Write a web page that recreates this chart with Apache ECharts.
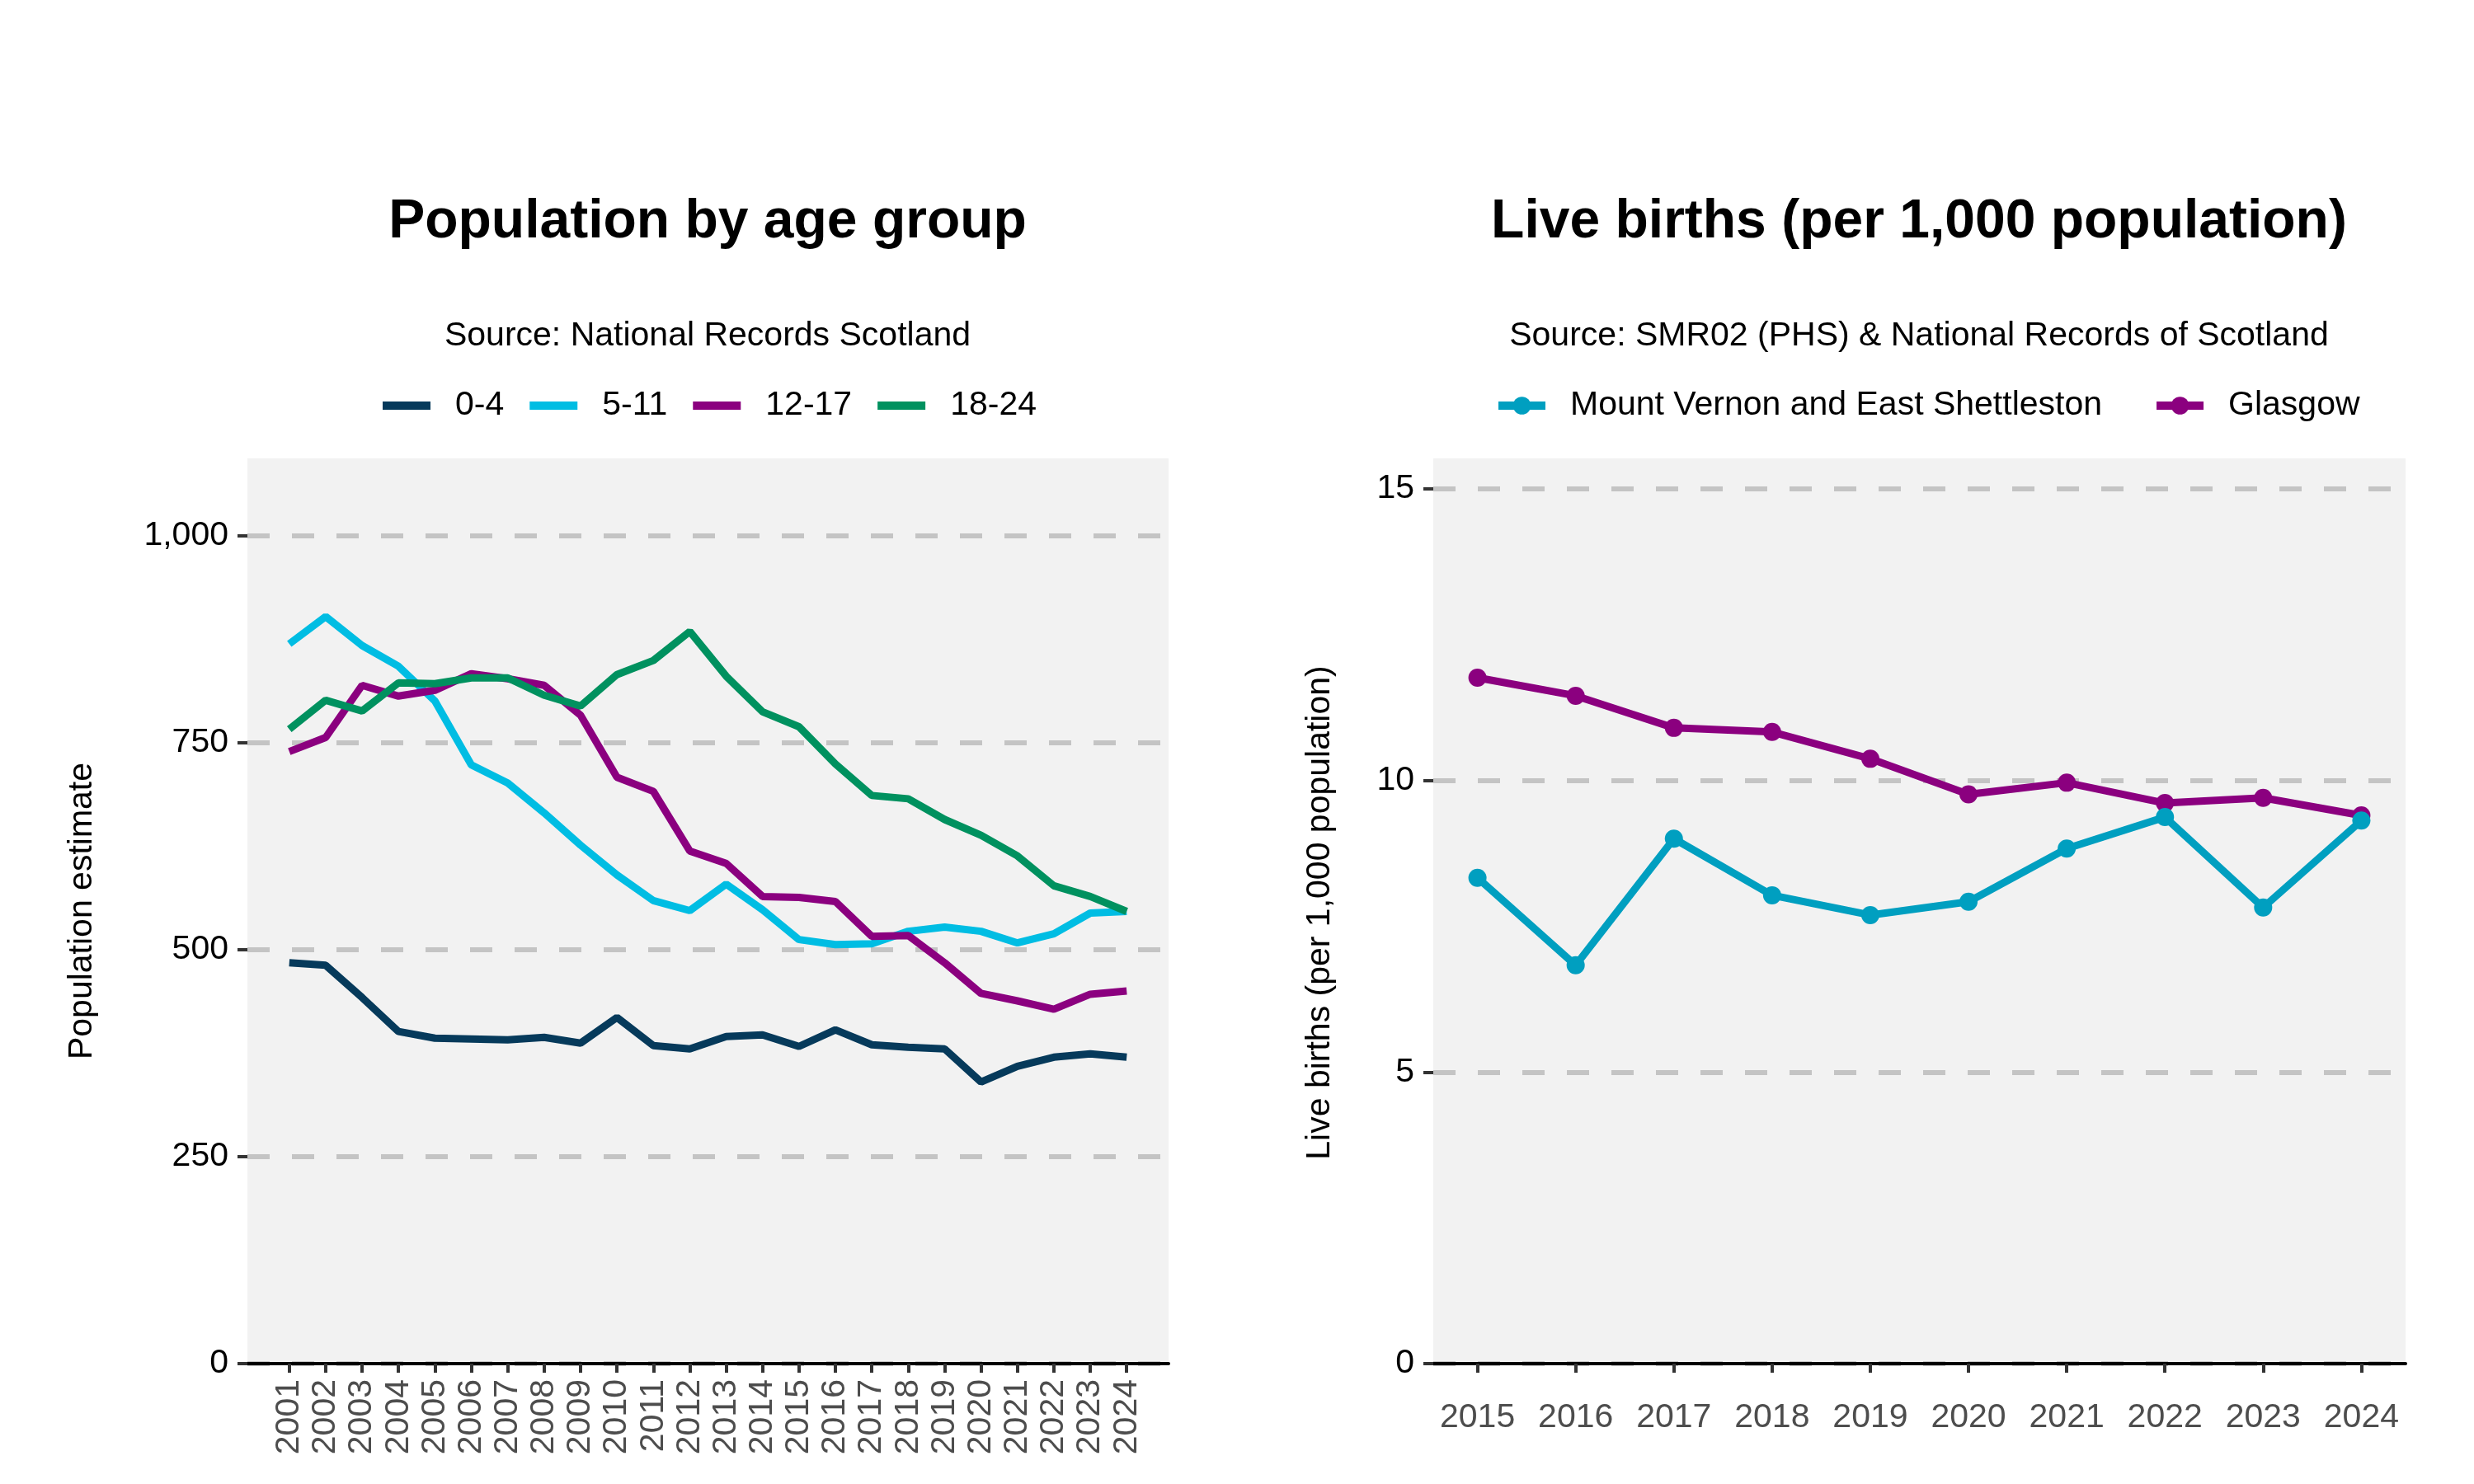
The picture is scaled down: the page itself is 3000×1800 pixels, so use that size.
<!DOCTYPE html>
<html>
<head>
<meta charset="utf-8">
<title>Population by age group / Live births</title>
<script src="https://cdn.jsdelivr.net/npm/echarts@6/dist/echarts.min.js"></script>
<style>
  html, body { margin: 0; padding: 0; background: #fff; }
  #chart { width: 3000px; height: 1800px; }
</style>
</head>
<body>
<div id="chart"></div>
<script>
// population by age group
const popYears = [2001, 2002, 2003, 2004, 2005, 2006, 2007, 2008, 2009, 2010, 2011, 2012,
  2013, 2014, 2015, 2016, 2017, 2018, 2019, 2020, 2021, 2022, 2023, 2024];
const age0to4 = [484, 481, 442, 401, 393, 392, 391, 394, 387, 418, 384, 380,
  395, 397, 383, 403, 385, 382, 380, 340, 359, 370, 374, 370];
const age5to11 = [869, 902, 867, 842, 800, 723, 701, 665, 626, 590, 559, 547,
  579, 548, 512, 506, 507, 522, 527, 522, 508, 519, 544, 546];
const age12to17 = [739, 756, 819, 806, 813, 833, 827, 819, 783, 708, 691, 619,
  604, 564, 563, 558, 516, 517, 484, 447, 438, 428, 446, 450];
const age18to24 = [766, 801, 788, 822, 821, 828, 828, 807, 794, 832, 849, 884,
  830, 787, 769, 724, 686, 682, 657, 638, 613, 577, 564, 546];
const popTicks = [0, 250, 500, 750, 1000];

// live births per 1,000
const birthYears = [2015, 2016, 2017, 2018, 2019, 2020, 2021, 2022, 2023, 2024];
const mountVernon = [8.33, 6.83, 9.00, 8.03, 7.69, 7.92, 8.83, 9.37, 7.82, 9.31];
const glasgow = [11.76, 11.45, 10.90, 10.83, 10.37, 9.76, 9.96, 9.61, 9.70, 9.40];
const birthTicks = [0, 5, 10, 15];

const FONT = '"Liberation Sans", Arial, sans-serif';

const pairs = (xs, ys) => xs.map((x, i) => [x, ys[i]]);

const chart = echarts.init(document.getElementById('chart'));

const gridLine = {
  show: true,
  lineStyle: { color: '#c4c4c4', width: 6, type: [27, 27] }
};

const yAxisBase = {
  type: 'value',
  min: 0,
  axisLine: { show: false },
  axisTick: { show: true, length: 12, lineStyle: { color: '#333', width: 4 } },
  axisLabel: { color: '#000', fontSize: 41, fontFamily: FONT, margin: 23 },
  splitLine: gridLine
};

const xAxisBase = {
  type: 'value',
  axisLine: { show: true, onZero: false, lineStyle: { color: '#000', width: 4 } },
  axisTick: { show: true, length: 11, lineStyle: { color: '#333', width: 4 } },
  splitLine: { show: false }
};

const lineSeries = (name, data, color, xi) => ({
  name: name,
  type: 'line',
  xAxisIndex: xi,
  yAxisIndex: xi,
  data: data,
  symbol: 'none',
  lineStyle: { color: color, width: 9 },
  itemStyle: { color: color },
  emphasis: { disabled: true }
});

const pointSeries = (name, data, color) => ({
  name: name,
  type: 'line',
  xAxisIndex: 1,
  yAxisIndex: 1,
  data: data,
  symbol: 'circle',
  symbolSize: 22,
  showAllSymbol: true,
  lineStyle: { color: color, width: 9 },
  itemStyle: { color: color },
  emphasis: { disabled: true }
});

const option = {
  backgroundColor: '#fff',
  animation: false,
  textStyle: { fontFamily: FONT },
  grid: [
    { left: 300, top: 556, width: 1117, height: 1098, show: true,
      backgroundColor: '#f2f2f2', borderWidth: 0 },
    { left: 1738, top: 556, width: 1179, height: 1098, show: true,
      backgroundColor: '#f2f2f2', borderWidth: 0 }
  ],
  xAxis: [
    Object.assign({}, xAxisBase, {
      gridIndex: 0,
      min: popYears[0] - 1.15,
      max: popYears[popYears.length - 1] + 1.15,
      axisTick: Object.assign({}, xAxisBase.axisTick, { customValues: popYears }),
      axisLabel: { customValues: popYears, rotate: 90, color: '#4d4d4d', fontSize: 41,
        fontFamily: FONT, margin: 19, formatter: v => String(v) }
    }),
    Object.assign({}, xAxisBase, {
      gridIndex: 1,
      min: birthYears[0] - 0.45,
      max: birthYears[birthYears.length - 1] + 0.45,
      axisTick: Object.assign({}, xAxisBase.axisTick, { customValues: birthYears }),
      axisLabel: { customValues: birthYears, color: '#4d4d4d', fontSize: 41,
        fontFamily: FONT, margin: 45, formatter: v => String(v) }
    })
  ],
  yAxis: [
    Object.assign({}, yAxisBase, {
      gridIndex: 0,
      max: 1093,
      interval: 250,
      axisTick: Object.assign({}, yAxisBase.axisTick, { customValues: popTicks }),
      axisLabel: Object.assign({}, yAxisBase.axisLabel, {
        customValues: popTicks, formatter: v => v.toLocaleString('en-US') })
    }),
    Object.assign({}, yAxisBase, {
      gridIndex: 1,
      max: 15.52,
      interval: 5,
      axisTick: Object.assign({}, yAxisBase.axisTick, { customValues: birthTicks }),
      axisLabel: Object.assign({}, yAxisBase.axisLabel, {
        customValues: birthTicks, formatter: v => String(v) })
    })
  ],
  legend: [
    {
      data: ['0-4', '5-11', '12-17', '18-24'],
      left: 464, top: 469, padding: 0,
      icon: 'rect', itemWidth: 58, itemHeight: 10, itemGap: 31,
      selectedMode: false,
      textStyle: { color: '#000', fontSize: 41, fontFamily: FONT, lineHeight: 46,
        padding: [0, 0, 0, 25] }
    },
    {
      data: ['Mount Vernon and East Shettleston', 'Glasgow'],
      left: 1812, top: 469, padding: 0,
      itemWidth: 57, itemHeight: 27, itemGap: 61,
      selectedMode: false,
      lineStyle: { width: 10 },
      textStyle: { color: '#000', fontSize: 41, fontFamily: FONT, lineHeight: 46,
        padding: [0, 0, 0, 25] }
    }
  ],
  graphic: [
    { type: 'text', x: 858, y: 270, style: { text: 'Population by age group',
      font: 'bold 66px ' + FONT, fill: '#000', align: 'center', verticalAlign: 'middle' } },
    { type: 'text', x: 858, y: 408, style: { text: 'Source: National Records Scotland',
      font: '41px ' + FONT, fill: '#000', align: 'center', verticalAlign: 'middle' } },
    { type: 'text', x: 2327, y: 270, style: { text: 'Live births (per 1,000 population)',
      font: 'bold 66px ' + FONT, fill: '#000', align: 'center', verticalAlign: 'middle' } },
    { type: 'text', x: 2327, y: 408, style: { text: 'Source: SMR02 (PHS) & National Records of Scotland',
      font: '41px ' + FONT, fill: '#000', align: 'center', verticalAlign: 'middle' } },
    { type: 'text', x: 100, y: 1105, rotation: Math.PI / 2, style: { text: 'Population estimate',
      font: '41px ' + FONT, fill: '#000', align: 'center', verticalAlign: 'middle' } },
    { type: 'text', x: 1601, y: 1107, rotation: Math.PI / 2, style: { text: 'Live births (per 1,000 population)',
      font: '41px ' + FONT, fill: '#000', align: 'center', verticalAlign: 'middle' } }
  ],
  series: [
    lineSeries('0-4', pairs(popYears, age0to4), '#063a5b', 0),
    lineSeries('5-11', pairs(popYears, age5to11), '#00bde3', 0),
    lineSeries('12-17', pairs(popYears, age12to17), '#8b007f', 0),
    lineSeries('18-24', pairs(popYears, age18to24), '#00915f', 0),
    pointSeries('Glasgow', pairs(birthYears, glasgow), '#8b007f'),
    pointSeries('Mount Vernon and East Shettleston', pairs(birthYears, mountVernon), '#009fc0')
  ]
};

chart.setOption(option);
window.addEventListener('resize', () => chart.resize());
</script>
</body>
</html>
